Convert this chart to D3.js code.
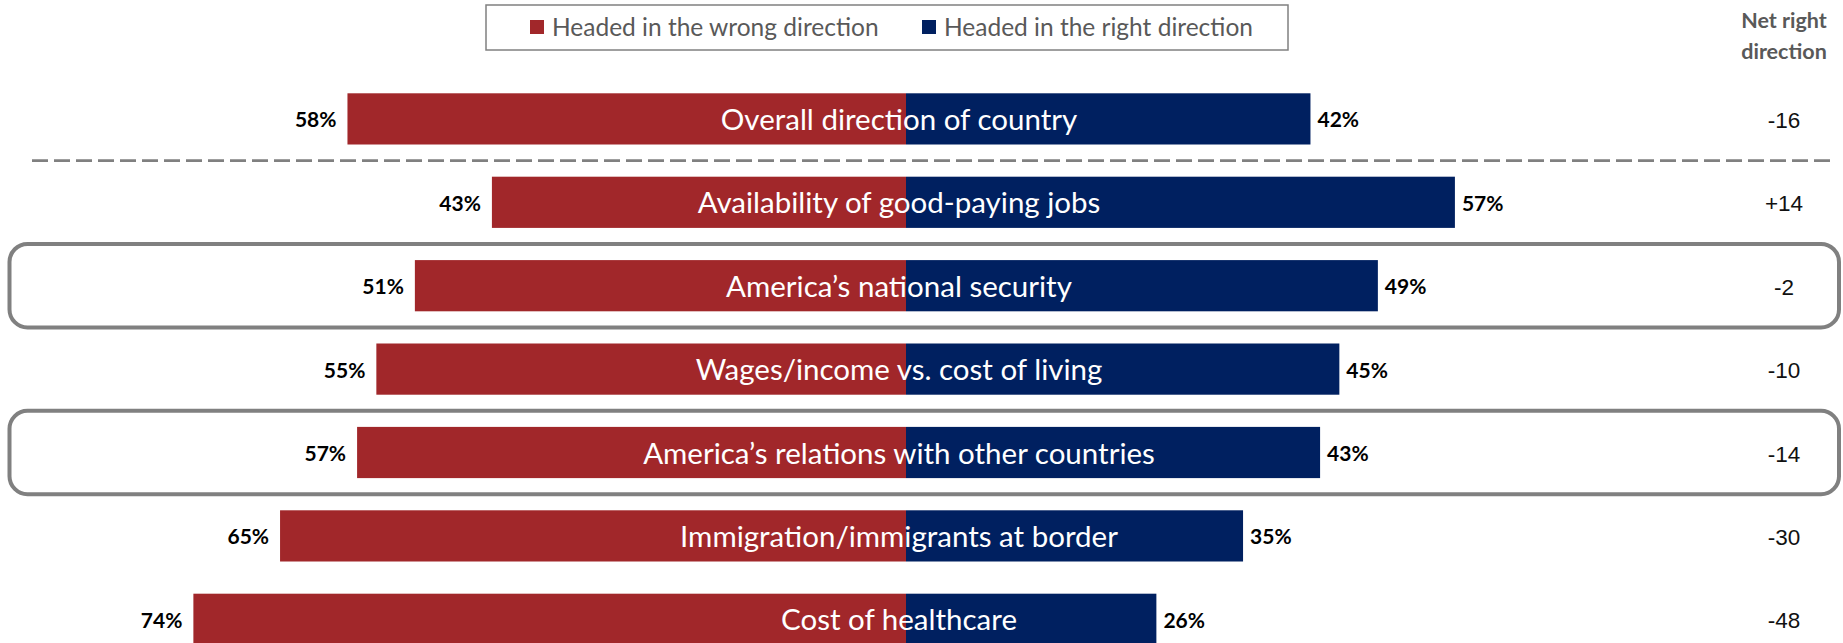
<!DOCTYPE html>
<html lang="en">
<head>
    <meta charset="UTF-8">
    <title>Direction of the country</title>
    <style>
        body { margin: 0; background: #fff; }
        svg { display: block; }
    </style>
</head>
<body>

    <script src="https://d3js.org/d3.v7.min.js"></script>
    <script>
        // Data
        const categories = [
            "Overall direction of country",
            "Availability of good-paying jobs",
            "America\u2019s national security",
            "Wages/income vs. cost of living",
            "America\u2019s relations with other countries",
            "Immigration/immigrants at border",
            "Cost of healthcare"
        ];
        const wrongValues = [58, 43, 51, 55, 57, 65, 74];
        const rightValues = [42, 57, 49, 45, 43, 35, 26];
        const netValues = ["-16", "+14", "-2", "-10", "-14", "-30", "-48"];
        const highlighted = ["America\u2019s national security", "America\u2019s relations with other countries"];
        const seriesNames = ["Headed in the wrong direction", "Headed in the right direction"];

        // Layout
        const width = 1843,
            height = 643,
            centerX = 906,
            pxPerPct = 9.63,
            rowStep = 83.4,
            netX = 1784,
            red = "#a1272a",
            blue = "#002060",
            grey = "#808080",
            labelFont = "Lato, 'Open Sans', sans-serif";

        const svg = d3.select("body").append("svg")
            .attr("width", width)
            .attr("height", height);

        // Scales
        const x = d3.scaleLinear()
            .domain([-100, 100])
            .range([centerX - 100 * pxPerPct, centerX + 100 * pxPerPct]);
        const y = d3.scaleBand()
            .domain(categories)
            .range([77.2, 77.2 + rowStep * categories.length])
            .paddingInner(0.386)
            .paddingOuter(0.193);
        const step = y.step();
        const pad = step * y.paddingOuter();
        const mid = function(c) { return y(c) + y.bandwidth() / 2; };

        const rows = categories.map(function(c, i) {
            return {cat: c, wrong: wrongValues[i], right: rightValues[i], net: netValues[i]};
        });

        // Rounded highlight frames
        svg.selectAll(".frame")
            .data(highlighted)
            .enter().append("rect")
            .attr("class", "frame")
            .attr("x", 9.5)
            .attr("y", function(c) { return y(c) - pad; })
            .attr("width", 1829.5)
            .attr("height", step)
            .attr("rx", 18)
            .attr("fill", "none")
            .attr("stroke", grey)
            .attr("stroke-width", 4);

        // Dashed separator under the first row
        svg.append("line")
            .attr("x1", 32)
            .attr("x2", 1830)
            .attr("y1", y(categories[0]) - pad + step)
            .attr("y2", y(categories[0]) - pad + step)
            .attr("stroke", grey)
            .attr("stroke-width", 2.7)
            .attr("stroke-dasharray", "16,6");

        const row = svg.selectAll(".row")
            .data(rows)
            .enter().append("g")
            .attr("class", "row");

        row.append("rect")
            .attr("x", function(d) { return x(-d.wrong); })
            .attr("y", function(d) { return y(d.cat); })
            .attr("width", function(d) { return x(0) - x(-d.wrong); })
            .attr("height", y.bandwidth())
            .attr("fill", red);

        row.append("rect")
            .attr("x", x(0))
            .attr("y", function(d) { return y(d.cat); })
            .attr("width", function(d) { return x(d.right) - x(0); })
            .attr("height", y.bandwidth())
            .attr("fill", blue);

        // Category name inside the bars
        row.append("text")
            .attr("x", centerX - 7)
            .attr("y", function(d) { return mid(d.cat) + 11; })
            .attr("text-anchor", "middle")
            .attr("fill", "#fff")
            .style("font-family", labelFont)
            .style("font-size", "29.5px")
            .text(function(d) { return d.cat; });

        // Percent labels
        row.append("text")
            .attr("x", function(d) { return x(-d.wrong) - 11; })
            .attr("y", function(d) { return mid(d.cat) + 8.5; })
            .attr("text-anchor", "end")
            .style("font-family", labelFont)
            .style("font-weight", "bold")
            .style("font-size", "21px")
            .text(function(d) { return d.wrong + "%"; });

        row.append("text")
            .attr("x", function(d) { return x(d.right) + 7; })
            .attr("y", function(d) { return mid(d.cat) + 8.5; })
            .style("font-family", labelFont)
            .style("font-weight", "bold")
            .style("font-size", "21px")
            .text(function(d) { return d.right + "%"; });

        // Net right direction column
        row.append("text")
            .attr("x", netX)
            .attr("y", function(d) { return mid(d.cat) + 9; })
            .attr("text-anchor", "middle")
            .style("font-family", "'Liberation Sans', Arial, sans-serif")
            .style("font-size", "22.5px")
            .attr("fill", "#111")
            .text(function(d) { return d.net; });

        const header = svg.append("text")
            .attr("text-anchor", "middle")
            .attr("fill", "#595959")
            .style("font-family", labelFont)
            .style("font-weight", "bold")
            .style("font-size", "21.5px");
        header.append("tspan").attr("x", netX).attr("y", 28).text("Net right");
        header.append("tspan").attr("x", netX).attr("y", 59).text("direction");

        // Legend
        svg.append("rect")
            .attr("x", 486)
            .attr("y", 5)
            .attr("width", 802)
            .attr("height", 45)
            .attr("fill", "none")
            .attr("stroke", grey)
            .attr("stroke-width", 1.5);

        const legendX = [530, 922];
        const legend = svg.selectAll(".legend")
            .data(seriesNames)
            .enter().append("g")
            .attr("class", "legend")
            .attr("transform", function(d, i) { return `translate(${legendX[i]},20)`; });

        legend.append("rect")
            .attr("width", 14)
            .attr("height", 14)
            .attr("fill", function(d, i) { return i === 0 ? red : blue; });

        legend.append("text")
            .attr("x", 22)
            .attr("y", 15.5)
            .attr("fill", "#595959")
            .style("font-family", labelFont)
            .style("font-size", "24.5px")
            .text(function(d) { return d; });
    </script>
</body>
</html>
